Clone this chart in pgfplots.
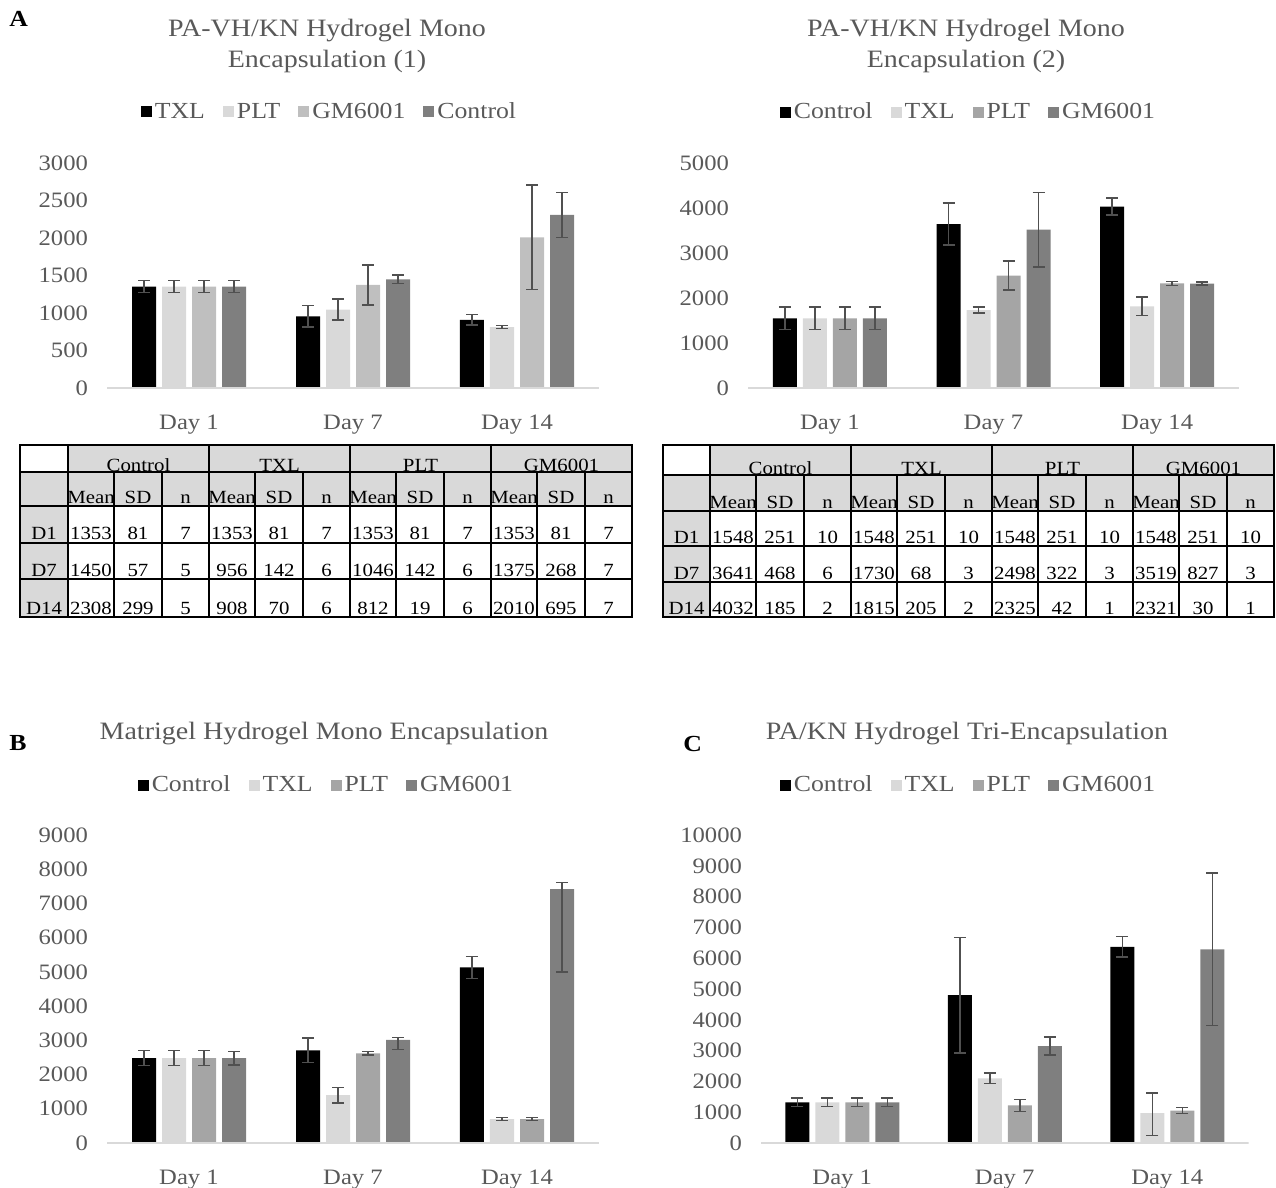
\documentclass[border=0pt]{standalone}
\usepackage{fontspec}
\setmainfont[FakeStretch=1.12]{Liberation Serif}
\usepackage{pgfplots}
\pgfplotsset{compat=1.18}
\definecolor{txtgray}{HTML}{595959}
\definecolor{errgray}{HTML}{505050}
\definecolor{lgray}{HTML}{D9D9D9}
\definecolor{cK}{HTML}{000000}
\definecolor{cL}{HTML}{D9D9D9}
\definecolor{cM}{HTML}{BFBFBF}
\definecolor{cN}{HTML}{A5A5A5}
\definecolor{cD}{HTML}{7F7F7F}
\definecolor{hdr}{HTML}{D9D9D9}
\pgfplotsset{
 mychart/.style={
  scale only axis, width=246pt, height=112.5pt,
  xmin=-0.5, xmax=2.5, ymin=0, enlargelimits=false,
  ybar=3pt, bar width=12pt,
  xtick={0,1,2}, xticklabels={Day 1,Day 7,Day 14},
  axis line style={draw=none}, tick style={draw=none},
  ticklabel style={font=\fontsize{11}{13}\selectfont, text=txtgray},
  /pgf/number format/assume math mode=true,
  /pgf/number format/1000 sep={},
  scaled y ticks=false,
  yticklabel style={xshift=-6pt},
  xticklabel style={yshift=-5.5pt},
  legend columns=4,
  legend style={draw=none, fill=none, font=\fontsize{11.5}{13}\selectfont, text=txtgray, anchor=center,
    /tikz/every even column/.append style={column sep=7.5pt}, inner sep=0pt, nodes={inner sep=1.5pt}},
  error bars/y dir=both, error bars/y explicit,
  error bars/error bar style={color=errgray, line width=0.75pt},
  error bars/error mark options={rotate=90, mark size=3pt, color=errgray, line width=0.75pt},
 },
 b/.style={fill=#1, draw=none, legend image code/.code={\fill[#1] (0pt,-2.75pt) rectangle (5.5pt,2.75pt);}},
}
\tikzset{
 title/.style={anchor=base, inner sep=0pt, font=\fontsize{12.5}{14}\selectfont, text=txtgray},
 panel/.style={anchor=base west, inner sep=0pt, font=\fontsize{11.5}{13}\selectfont\bfseries, text=black},
 tabtxt/.style={anchor=base, inner sep=0pt, font=\fontsize{9.3}{11}\selectfont, text=black},
}
\newcommand\drawtab{%
 \fill[hdr] (\tX,\ra) rectangle (\tR,\rb);
 \fill[hdr] (\tL,\rb) rectangle (\tR,\rc);
 \fill[hdr] (\tL,\rc) rectangle (\tX,\rf);
 \foreach \h [count=\g from 0] in {Control,TXL,PLT,GM6001} {
   \node[tabtxt] at ({\tX+141*\g+70.5},\bh) {\h};
   \node[tabtxt] at ({\tX+141*\g+23},\bs) {Mean};
   \node[tabtxt] at ({\tX+141*\g+70},\bs) {SD};
   \node[tabtxt] at ({\tX+141*\g+117.5},\bs) {n};
 }
 \node[tabtxt] at ({(\tL+\tX)/2},\bA) {D1};
 \node[tabtxt] at ({(\tL+\tX)/2},\bB) {D7};
 \node[tabtxt] at ({(\tL+\tX)/2},\bC) {D14};
 \foreach \v [count=\i from 0] in \dA {\pgfmathsetmacro\cx{\tX+141*int(\i/3)+{23,70,117.5}[mod(\i,3)]}\node[tabtxt] at (\cx,\bA) {\v};}
 \foreach \v [count=\i from 0] in \dB {\pgfmathsetmacro\cx{\tX+141*int(\i/3)+{23,70,117.5}[mod(\i,3)]}\node[tabtxt] at (\cx,\bB) {\v};}
 \foreach \v [count=\i from 0] in \dC {\pgfmathsetmacro\cx{\tX+141*int(\i/3)+{23,70,117.5}[mod(\i,3)]}\node[tabtxt] at (\cx,\bC) {\v};}
 \foreach \yy in {\rb,\rc,\rd,\re} {\draw[line width=1pt] (\tL,\yy) -- (\tR,\yy);}
 \draw[line width=1pt] (\tX,\ra) -- (\tX,\rf);
 \foreach \g in {1,2,3} {\draw[line width=1pt] ({\tX+141*\g},\ra) -- ({\tX+141*\g},\rf);}
 \foreach \g in {0,1,2,3} {\draw[line width=1pt] ({\tX+141*\g+46},\rb) -- ({\tX+141*\g+46},\rf);
   \draw[line width=1pt] ({\tX+141*\g+94},\rb) -- ({\tX+141*\g+94},\rf);}
 \draw[line width=1.3pt] (\tL,\ra) rectangle (\tR,\rf);
}
\begin{document}
\begin{tikzpicture}
\path[use as bounding box] (0,0) rectangle (638pt,-594pt);
% ---------- Chart 1 ----------
\begin{axis}[mychart, at={(53.5pt,-194pt)}, anchor=south west, ymax=3000, ytick={0,500,...,3000},
  legend style={at={(axis description cs:0.4533,1.2267)}}]
\addplot[b=cK] coordinates {(0,1353) +- (0,81) (1,956) +- (0,142) (2,908) +- (0,70)};
\addplot[b=cL] coordinates {(0,1353) +- (0,81) (1,1046) +- (0,142) (2,812) +- (0,19)};
\addplot[b=cM] coordinates {(0,1353) +- (0,81) (1,1375) +- (0,268) (2,2010) +- (0,695)};
\addplot[b=cD] coordinates {(0,1353) +- (0,81) (1,1450) +- (0,57) (2,2308) +- (0,299)};
\legend{TXL,PLT,GM6001,Control}
\draw[lgray, line width=1pt] (axis cs:-0.5,0) -- (axis cs:2.5,0);
\end{axis}
% ---------- Chart 2 ----------
\begin{axis}[mychart, at={(374pt,-194pt)}, anchor=south west, width=245.5pt, ymax=5000, ytick={0,1000,...,5000},
  legend style={at={(axis description cs:0.45,1.2267)}}]
\addplot[b=cK] coordinates {(0,1548) +- (0,251) (1,3641) +- (0,468) (2,4032) +- (0,185)};
\addplot[b=cL] coordinates {(0,1548) +- (0,251) (1,1730) +- (0,68) (2,1815) +- (0,205)};
\addplot[b=cN] coordinates {(0,1548) +- (0,251) (1,2498) +- (0,322) (2,2325) +- (0,42)};
\addplot[b=cD] coordinates {(0,1548) +- (0,251) (1,3519) +- (0,827) (2,2321) +- (0,30)};
\legend{Control,TXL,PLT,GM6001}
\draw[lgray, line width=1pt] (axis cs:-0.5,0) -- (axis cs:2.5,0);
\end{axis}
% ---------- Chart B ----------
\begin{axis}[mychart, at={(53.5pt,-571.5pt)}, anchor=south west, height=154pt, ymax=9000, ytick={0,1000,...,9000},
  legend style={at={(axis description cs:0.447,1.162)}}]
\addplot[b=cK] coordinates {(0,2480) +- (0,220) (1,2710) +- (0,355) (2,5130) +- (0,320)};
\addplot[b=cL] coordinates {(0,2480) +- (0,220) (1,1400) +- (0,225) (2,700) +- (0,45)};
\addplot[b=cN] coordinates {(0,2480) +- (0,220) (1,2620) +- (0,50) (2,700) +- (0,45)};
\addplot[b=cD] coordinates {(0,2480) +- (0,195) (1,3015) += (0,70) -= (0,280) (2,7420) += (0,190) -= (0,2420)};
\legend{Control,TXL,PLT,GM6001}
\draw[lgray, line width=1pt] (axis cs:-0.5,0) -- (axis cs:2.5,0);
\end{axis}
% ---------- Chart C ----------
\begin{axis}[mychart, at={(380.5pt,-571.5pt)}, anchor=south west, width=243.75pt, height=154pt, ymax=10000, ytick={0,1000,...,10000},
  legend style={at={(axis description cs:0.4267,1.162)}}]
\addplot[b=cK] coordinates {(0,1320) +- (0,140) (1,4800) +- (0,1870) (2,6370) +- (0,330)};
\addplot[b=cL] coordinates {(0,1320) +- (0,140) (1,2100) +- (0,170) (2,970) += (0,660) -= (0,730)};
\addplot[b=cN] coordinates {(0,1320) +- (0,140) (1,1220) +- (0,190) (2,1055) +- (0,90)};
\addplot[b=cD] coordinates {(0,1320) +- (0,140) (1,3145) +- (0,290) (2,6290) +- (0,2480)};
\legend{Control,TXL,PLT,GM6001}
\draw[lgray, line width=1pt] (axis cs:-0.5,0) -- (axis cs:2.5,0);
\end{axis}
% ---------- texts and tables (px coordinates) ----------
\begin{scope}[x=0.5pt,y=-0.5pt]
\node[title] at (327,37) {PA-VH/KN Hydrogel Mono};
\node[title] at (327,68) {Encapsulation (1)};
\node[title] at (966,37) {PA-VH/KN Hydrogel Mono};
\node[title] at (966,68) {Encapsulation (2)};
\node[title] at (324,739) {Matrigel Hydrogel Mono Encapsulation};
\node[title] at (967,739) {PA/KN Hydrogel Tri-Encapsulation};
\node[panel] at (9,27) {A};
\node[panel] at (9,750) {B};
\node[panel] at (683,751) {C};
% table 1
\def\tL{20}\def\tX{68}\def\tR{632}
\def\ra{445}\def\rb{472}\def\rc{506}\def\rd{543}\def\re{579}\def\rf{617}
\def\bh{471}\def\bs{503}\def\bA{539}\def\bB{576}\def\bC{614}
\def\dA{1353,81,7,1353,81,7,1353,81,7,1353,81,7}
\def\dB{1450,57,5,956,142,6,1046,142,6,1375,268,7}
\def\dC{2308,299,5,908,70,6,812,19,6,2010,695,7}
\drawtab
% table 2
\def\tL{663}\def\tX{710}\def\tR{1274}
\def\ra{445}\def\rb{475}\def\rc{511}\def\rd{546}\def\re{582}\def\rf{617}
\def\bh{474}\def\bs{508}\def\bA{543}\def\bB{579}\def\bC{614}
\def\dA{1548,251,10,1548,251,10,1548,251,10,1548,251,10}
\def\dB{3641,468,6,1730,68,3,2498,322,3,3519,827,3}
\def\dC{4032,185,2,1815,205,2,2325,42,1,2321,30,1}
\drawtab
\end{scope}
\end{tikzpicture}
\end{document}
